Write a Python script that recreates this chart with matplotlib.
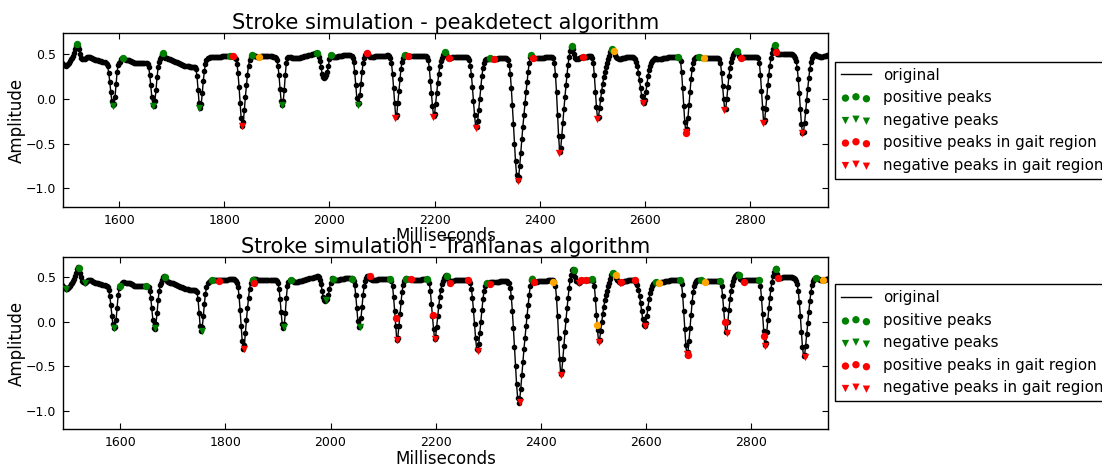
import numpy as np
import matplotlib
matplotlib.use("Agg")
import matplotlib.pyplot as plt

# ---- accelerometer trace, sampled every 2 ms from 1490 ms to 2948 ms ----
amp_1490 = [0.41, 0.395, 0.38, 0.372, 0.37, 0.375, 0.385, 0.40, 0.42, 0.44,
            0.46, 0.48, 0.51, 0.55, 0.59, 0.61, 0.59, 0.55, 0.50, 0.46,
            0.445, 0.44, 0.445, 0.455, 0.465, 0.47, 0.47, 0.465, 0.455, 0.45,
            0.445, 0.44, 0.435, 0.43, 0.43, 0.428, 0.425, 0.42, 0.418, 0.415,
            0.41, 0.405, 0.40, 0.39, 0.36, 0.29, 0.19, 0.07, -0.03, -0.075]
amp_1590 = [-0.06, 0.02, 0.16, 0.30, 0.38, 0.40, 0.415, 0.44, 0.45, 0.45,
            0.44, 0.435, 0.43, 0.43, 0.43, 0.425, 0.42, 0.41, 0.405, 0.40,
            0.40, 0.40, 0.40, 0.40, 0.40, 0.40, 0.40, 0.40, 0.40, 0.402,
            0.40, 0.395, 0.385, 0.35, 0.27, 0.15, 0.02, -0.07, -0.08, -0.02,
            0.10, 0.24, 0.35, 0.41, 0.44, 0.47, 0.50, 0.51, 0.49, 0.46]
amp_1690 = [0.45, 0.445, 0.44, 0.44, 0.435, 0.43, 0.425, 0.42, 0.415, 0.41,
            0.405, 0.40, 0.395, 0.39, 0.385, 0.38, 0.375, 0.37, 0.365, 0.362,
            0.36, 0.36, 0.358, 0.356, 0.355, 0.355, 0.355, 0.35, 0.33, 0.25,
            0.10, -0.05, -0.10, -0.06, 0.06, 0.20, 0.31, 0.39, 0.43, 0.45,
            0.46, 0.465, 0.47, 0.468, 0.468, 0.47, 0.47, 0.47, 0.468, 0.468]
amp_1790 = [0.47, 0.47, 0.47, 0.472, 0.472, 0.472, 0.473, 0.474, 0.475, 0.476,
            0.477, 0.477, 0.476, 0.475, 0.47, 0.46, 0.44, 0.39, 0.29, 0.13,
            -0.05, -0.22, -0.30, -0.26, -0.13, 0.02, 0.15, 0.27, 0.37, 0.43,
            0.465, 0.48, 0.485, 0.48, 0.475, 0.472, 0.47, 0.47, 0.47, 0.47,
            0.472, 0.473, 0.473, 0.473, 0.473, 0.473, 0.473, 0.473, 0.473, 0.472]
amp_1890 = [0.472, 0.47, 0.47, 0.465, 0.455, 0.43, 0.37, 0.26, 0.11, -0.02,
            -0.07, -0.03, 0.10, 0.27, 0.40, 0.45, 0.465, 0.47, 0.465, 0.455,
            0.45, 0.45, 0.45, 0.45, 0.45, 0.452, 0.455, 0.46, 0.462, 0.465,
            0.468, 0.472, 0.475, 0.478, 0.482, 0.486, 0.49, 0.493, 0.496, 0.50,
            0.503, 0.506, 0.51, 0.51, 0.50, 0.47, 0.42, 0.35, 0.28, 0.245]
amp_1990 = [0.235, 0.24, 0.26, 0.30, 0.37, 0.44, 0.49, 0.485, 0.47, 0.465,
            0.465, 0.468, 0.47, 0.472, 0.475, 0.477, 0.48, 0.482, 0.484, 0.486,
            0.488, 0.49, 0.49, 0.49, 0.49, 0.488, 0.48, 0.46, 0.41, 0.30,
            0.15, 0.01, -0.06, -0.05, 0.04, 0.17, 0.30, 0.40, 0.46, 0.49,
            0.51, 0.515, 0.50, 0.48, 0.47, 0.468, 0.468, 0.47, 0.472, 0.474]
amp_2090 = [0.475, 0.476, 0.477, 0.478, 0.479, 0.48, 0.48, 0.48, 0.481, 0.482,
            0.483, 0.485, 0.48, 0.46, 0.40, 0.28, 0.12, -0.05, -0.20, -0.18,
            -0.05, 0.09, 0.22, 0.33, 0.41, 0.46, 0.485, 0.49, 0.485, 0.48,
            0.478, 0.475, 0.473, 0.472, 0.472, 0.472, 0.473, 0.473, 0.473, 0.474,
            0.474, 0.474, 0.475, 0.475, 0.475, 0.475, 0.475, 0.475, 0.465, 0.43]
amp_2190 = [0.34, 0.20, 0.06, -0.08, -0.19, -0.17, -0.06, 0.06, 0.18, 0.28,
            0.36, 0.42, 0.46, 0.49, 0.51, 0.52, 0.51, 0.48, 0.455, 0.45,
            0.455, 0.46, 0.462, 0.465, 0.467, 0.468, 0.468, 0.468, 0.468, 0.468,
            0.468, 0.467, 0.467, 0.466, 0.465, 0.465, 0.465, 0.455, 0.43, 0.37,
            0.27, 0.13, -0.03, -0.18, -0.30, -0.32, -0.25, -0.13, 0.00, 0.13]
amp_2290 = [0.25, 0.34, 0.40, 0.43, 0.44, 0.44, 0.44, 0.445, 0.45, 0.448,
            0.445, 0.443, 0.442, 0.445, 0.448, 0.45, 0.452, 0.455, 0.457, 0.458,
            0.46, 0.46, 0.46, 0.455, 0.44, 0.43, 0.38, 0.28, 0.12, -0.07,
            -0.28, -0.50, -0.70, -0.85, -0.91, -0.87, -0.75, -0.60, -0.45, -0.31,
            -0.18, -0.05, 0.07, 0.19, 0.30, 0.40, 0.47, 0.49, 0.47, 0.455]
amp_2390 = [0.45, 0.45, 0.452, 0.455, 0.455, 0.456, 0.457, 0.458, 0.459, 0.46,
            0.461, 0.462, 0.463, 0.464, 0.465, 0.466, 0.467, 0.465, 0.45, 0.40,
            0.27, 0.07, -0.18, -0.42, -0.59, -0.55, -0.42, -0.27, -0.12, 0.02,
            0.15, 0.27, 0.38, 0.47, 0.53, 0.575, 0.59, 0.56, 0.50, 0.46,
            0.445, 0.44, 0.45, 0.46, 0.465, 0.467, 0.468, 0.47, 0.47, 0.47]
amp_2490 = [0.47, 0.472, 0.474, 0.475, 0.475, 0.46, 0.40, 0.26, 0.08, -0.09,
            -0.22, -0.20, -0.10, 0.00, 0.09, 0.17, 0.24, 0.30, 0.35, 0.40,
            0.44, 0.48, 0.52, 0.545, 0.55, 0.54, 0.52, 0.49, 0.465, 0.45,
            0.443, 0.44, 0.445, 0.45, 0.455, 0.458, 0.46, 0.462, 0.463, 0.464,
            0.465, 0.466, 0.467, 0.468, 0.468, 0.46, 0.44, 0.41, 0.36, 0.29]
amp_2590 = [0.21, 0.12, 0.03, -0.04, -0.05, -0.01, 0.07, 0.16, 0.25, 0.32,
            0.37, 0.40, 0.42, 0.435, 0.445, 0.45, 0.445, 0.44, 0.44, 0.442,
            0.445, 0.448, 0.45, 0.452, 0.455, 0.457, 0.46, 0.462, 0.464, 0.465,
            0.466, 0.467, 0.468, 0.469, 0.47, 0.47, 0.47, 0.47, 0.46, 0.42,
            0.30, 0.12, -0.08, -0.26, -0.37, -0.34, -0.22, -0.07, 0.08, 0.22]
amp_2690 = [0.33, 0.40, 0.44, 0.46, 0.465, 0.467, 0.468, 0.468, 0.465, 0.458,
            0.452, 0.45, 0.45, 0.452, 0.455, 0.456, 0.457, 0.458, 0.459, 0.46,
            0.46, 0.46, 0.46, 0.46, 0.46, 0.458, 0.445, 0.40, 0.29, 0.14,
            0.00, -0.12, -0.11, 0.00, 0.13, 0.25, 0.34, 0.41, 0.46, 0.49,
            0.51, 0.525, 0.535, 0.535, 0.51, 0.48, 0.465, 0.46, 0.462, 0.465]
amp_2790 = [0.467, 0.468, 0.469, 0.47, 0.47, 0.47, 0.47, 0.47, 0.47, 0.47,
            0.47, 0.47, 0.47, 0.455, 0.40, 0.27, 0.09, -0.10, -0.26, -0.24,
            -0.12, 0.02, 0.15, 0.27, 0.37, 0.45, 0.51, 0.56, 0.59, 0.60,
            0.54, 0.50, 0.495, 0.495, 0.496, 0.497, 0.498, 0.499, 0.50, 0.50,
            0.50, 0.50, 0.50, 0.50, 0.498, 0.495, 0.49, 0.48, 0.46, 0.42]
amp_2890 = [0.34, 0.22, 0.06, -0.12, -0.28, -0.385, -0.37, -0.27, -0.14, -0.01,
            0.11, 0.23, 0.33, 0.41, 0.46, 0.48, 0.49, 0.495, 0.49, 0.48,
            0.475, 0.472, 0.47, 0.47, 0.47, 0.472, 0.475, 0.48, 0.485, 0.49]

# ---- peakdetect results ----
pd_pos_ms = [1520, 1607, 1684, 1810, 1853, 1976, 2002, 2143, 2220, 2306,
             2383, 2461, 2537, 2663, 2703, 2776, 2847]
pd_pos_amp = [0.61, 0.45, 0.51, 0.475, 0.485, 0.51, 0.49, 0.49, 0.52, 0.45,
              0.49, 0.59, 0.55, 0.47, 0.47, 0.535, 0.60]
pd_neg_ms = [1587.5, 1664, 1752, 1910, 2054]
pd_neg_amp = [-0.08, -0.085, -0.105, -0.07, -0.07]
pd_gait_pos_ms = [1816, 2072, 2149, 2227, 2314, 2387, 2483, 2678, 2783, 2850]
pd_gait_pos_amp = [0.475, 0.515, 0.48, 0.46, 0.44, 0.45, 0.47, -0.38, 0.46, 0.52]
pd_gait_neg_ms = [1833, 2125, 2197, 2278, 2358.5, 2436.5, 2509.5, 2596, 2678,
                  2751.5, 2824, 2900]
pd_gait_neg_amp = [-0.305, -0.21, -0.20, -0.33, -0.915, -0.61, -0.23, -0.05,
                   -0.37, -0.126, -0.275, -0.386]
pd_other_ms = [1866, 2542, 2713]
pd_other_amp = [0.47, 0.53, 0.45]

# ---- Tranianas results ----
tr_pos_ms = [1521, 1600, 1649, 1685.5, 1774, 1852, 1925, 2004, 2041, 2113,
             2144.5, 2184.4, 2222.4, 2298.4, 2384, 2463, 2498, 2537.6, 2620,
             2664.5, 2704, 2740.5, 2776.6, 2814.6, 2848.3, 2924.5]
tr_pos_amp = [0.60, 0.40, 0.40, 0.505, 0.47, 0.47, 0.47, 0.485, 0.485, 0.485,
              0.485, 0.475, 0.51, 0.44, 0.475, 0.58, 0.475, 0.55, 0.45,
              0.47, 0.465, 0.457, 0.53, 0.47, 0.595, 0.495]
tr_neg_ms = [1497.4, 1532, 1588, 1666.5, 1755, 1911, 1991.4, 2056]
tr_neg_amp = [0.37, 0.44, -0.075, -0.075, -0.10, -0.055, 0.24, -0.055]
tr_gait_pos_ms = [1787.3, 1855, 2075, 2124.4, 2153, 2195.2, 2227.5, 2262.3,
                  2303.5, 2387.2, 2475.8, 2486.5, 2553.6, 2579, 2679.7,
                  2751.3, 2786, 2825.4, 2851.4]
tr_gait_pos_amp = [0.46, 0.43, 0.51, 0.04, 0.475, 0.075, 0.43, 0.465, 0.42,
                   0.446, 0.465, 0.465, 0.45, 0.465, -0.37, 0.0, 0.45, -0.16,
                   0.495]
tr_gait_neg_ms = [1834.8, 2127.4, 2199, 2280.7, 2360, 2437.9, 2472.6, 2510.6,
                  2551.6, 2598, 2679, 2754.4, 2827.4, 2902.2]
tr_gait_neg_amp = [-0.305, -0.205, -0.19, -0.325, -0.90, -0.60, 0.44, -0.23,
                   0.44, -0.05, -0.36, -0.13, -0.27, -0.39]
tr_other_ms = [2423.3, 2507.4, 2543.3, 2624.5, 2713.3, 2937]
tr_other_amp = [0.446, -0.037, 0.52, 0.43, 0.446, 0.47]

x_ticks = [1600, 1800, 2000, 2200, 2400, 2600, 2800]
y_ticks = [0.5, 0.0, -0.5, -1.0]

amplitude = np.concatenate([amp_1490, amp_1590, amp_1690, amp_1790, amp_1890,
                            amp_1990, amp_2090, amp_2190, amp_2290, amp_2390,
                            amp_2490, amp_2590, amp_2690, amp_2790, amp_2890])
ms = np.arange(1490, 1490 + 2 * len(amplitude), 2)

plt.rcParams['font.family'] = ['DejaVu Sans']

fig = plt.figure(figsize=(11.02, 4.66), dpi=100)
ax1 = fig.add_axes([0.0574, 0.5564, 0.6936, 0.3721])
ax2 = fig.add_axes([0.0574, 0.0788, 0.6936, 0.3704])

MS = 28


def draw(ax, title, pos, neg, gpos, gneg, other, xlim):
    ax.plot(ms, amplitude, color='k', lw=1.0, label='original', zorder=2)
    ax.plot(ms, amplitude, linestyle='none', marker='.', color='k',
            markersize=6, zorder=2)
    ax.scatter(*pos, s=MS, marker='o', color='green', linewidths=0,
               label='positive peaks', zorder=3)
    ax.scatter(*neg, s=MS, marker='v', color='green', linewidths=0,
               label='negative peaks', zorder=3)
    ax.scatter(*gpos, s=MS, marker='o', color='red', linewidths=0,
               label='positive peaks in gait region', zorder=3)
    ax.scatter(*gneg, s=MS, marker='v', color='red', linewidths=0,
               label='negative peaks in gait region', zorder=3)
    ax.scatter(*other, s=MS, marker='o', color='orange', linewidths=0,
               zorder=3)
    ax.set_xlim(*xlim)
    ax.set_ylim(-1.205, 0.73)
    ax.set_xticks(x_ticks)
    ax.set_yticks(y_ticks)
    ax.tick_params(direction='in', top=True, right=True, length=4,
                   width=0.8, labelsize=9, pad=5)
    for sp in ax.spines.values():
        sp.set_linewidth(1.0)
    ax.set_title(title, fontsize=15, pad=3)
    ax.set_xlabel('Milliseconds', fontsize=12, labelpad=0.5)
    ax.set_ylabel('Amplitude', fontsize=12, labelpad=0)
    leg = ax.legend(loc='center left', bbox_to_anchor=(1.0096, 0.5),
                    borderaxespad=0, fontsize=10.8, scatterpoints=3,
                    scatteryoffsets=[0.375, 0.5, 0.3125], fancybox=False,
                    framealpha=1, edgecolor='black', labelspacing=0.5,
                    borderpad=0.4, handlelength=2.0, handletextpad=0.8)
    leg.get_frame().set_linewidth(1.0)


draw(ax1, 'Stroke simulation - peakdetect algorithm',
     (pd_pos_ms, pd_pos_amp), (pd_neg_ms, pd_neg_amp),
     (pd_gait_pos_ms, pd_gait_pos_amp), (pd_gait_neg_ms, pd_gait_neg_amp),
     (pd_other_ms, pd_other_amp), (1493.5, 2947.8))
draw(ax2, 'Stroke simulation - Tranianas algorithm',
     (tr_pos_ms, tr_pos_amp), (tr_neg_ms, tr_neg_amp),
     (tr_gait_pos_ms, tr_gait_pos_amp), (tr_gait_neg_ms, tr_gait_neg_amp),
     (tr_other_ms, tr_other_amp), (1491.5, 2945.8))

fig.savefig('out.png', dpi=100, facecolor='white')
